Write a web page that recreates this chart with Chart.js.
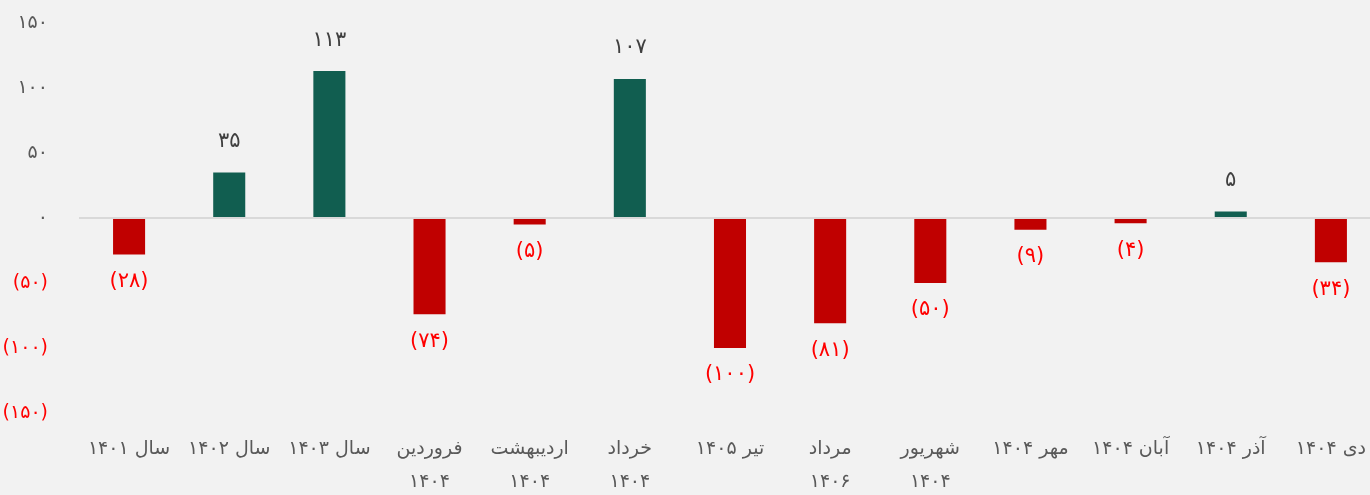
<!DOCTYPE html>
<html>
<head>
<meta charset="utf-8">
<script src="https://cdn.jsdelivr.net/npm/chart.js@4"></script>
<style>
    html, body { margin: 0; padding: 0; overflow: hidden; background: #f2f2f2; }
    #wrap { position: relative; width: 1385px; height: 495px; }
</style>
</head>
<body>
<div id="wrap"><canvas id="barChart"></canvas></div>
<script>
var categories = [
    'سال ۱۴۰۱', 'سال ۱۴۰۲', 'سال ۱۴۰۳',
    ['فروردین', '۱۴۰۴'], ['اردیبهشت', '۱۴۰۴'], ['خرداد', '۱۴۰۴'],
    'تیر ۱۴۰۵', ['مرداد', '۱۴۰۶'], ['شهریور', '۱۴۰۴'],
    'مهر ۱۴۰۴', 'آبان ۱۴۰۴', 'آذر ۱۴۰۴', 'دی ۱۴۰۴'
];
var values = [-28, 35, 113, -74, -5, 107, -100, -81, -50, -9, -4, 5, -34];
var yTicks = [-150, -100, -50, 0, 50, 100, 150];

var GREEN = '#115e50';
var RED = '#c00000';
var FONT = "'DejaVu Sans', sans-serif";

function fa(n) {
    var s = String(Math.abs(n)).replace(/\d/g, function(d) { return '۰۱۲۳۴۵۶۷۸۹'[d]; });
    return n < 0 ? '(' + s + ')' : s;
}

var valueLabels = {
    id: 'valueLabels',
    afterDatasetsDraw: function(chart) {
        var ctx = chart.ctx;
        var meta = chart.getDatasetMeta(0);
        ctx.save();
        ctx.font = '21px ' + FONT;
        ctx.textAlign = 'center';
        ctx.textBaseline = 'middle';
        meta.data.forEach(function(bar, i) {
            var v = values[i];
            if (v >= 0) {
                ctx.fillStyle = '#404040';
                ctx.fillText(fa(v), bar.x, bar.y - 31);
            } else {
                ctx.fillStyle = '#ff0000';
                ctx.fillText(fa(v), bar.x, bar.y + 27);
            }
        });
        ctx.restore();
    }
};

new Chart(document.getElementById('barChart').getContext('2d'), {
    type: 'bar',
    data: {
        labels: categories,
        datasets: [{
            data: values,
            backgroundColor: values.map(function(v) { return v < 0 ? RED : GREEN; }),
            barPercentage: 0.32,
            categoryPercentage: 1
        }]
    },
    options: {
        responsive: true,
        maintainAspectRatio: false,
        animation: false,
        layout: { padding: { top: 23, right: 0, bottom: 0, left: 0 } },
        plugins: { legend: { display: false }, tooltip: { enabled: false } },
        scales: {
            y: {
                min: -150, max: 150,
                afterBuildTicks: function(axis) {
                    axis.ticks = yTicks.map(function(v) { return { value: v }; });
                },
                afterFit: function(axis) {
                    axis.width = 79;
                    axis.paddingTop = 0;
                    axis.paddingBottom = 0;
                },
                border: { display: false },
                grid: {
                    drawTicks: false,
                    lineWidth: 2,
                    color: function(c) { return c.tick && c.tick.value === 0 ? '#d9d9d9' : 'rgba(0,0,0,0)'; }
                },
                ticks: {
                    padding: 31,
                    font: { size: 19, family: FONT },
                    color: function(c) { return c.tick.value < 0 ? '#ff0000' : '#595959'; },
                    callback: function(v) { return fa(v); }
                }
            },
            x: {
                afterFit: function(axis) { axis.height = 82; },
                border: { display: false },
                grid: { display: false, drawTicks: false },
                ticks: {
                    padding: 19,
                    maxRotation: 0,
                    autoSkip: false,
                    color: '#595959',
                    font: { size: 19, family: FONT, lineHeight: 1.75 }
                }
            }
        }
    },
    plugins: [valueLabels]
});
</script>
</body>
</html>
